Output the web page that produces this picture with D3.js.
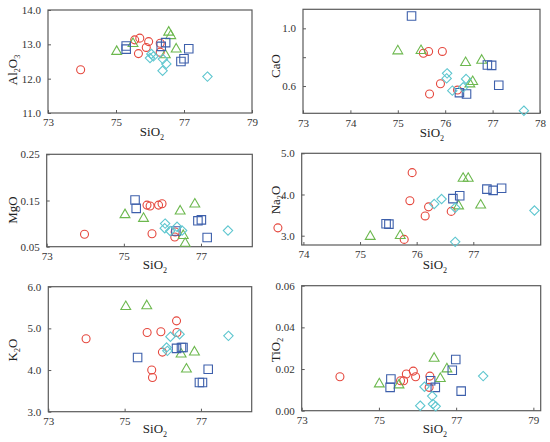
<!DOCTYPE html>
<html><head><meta charset="utf-8">
<script src="https://cdn.jsdelivr.net/npm/d3@7/dist/d3.min.js"></script>
<style>body{margin:0;background:#fff}svg{display:block}</style>
</head><body><svg id="c" width="550" height="442"></svg>
<script>
// ---------- DATA (SiO2, oxide) ----------
const al2o3Circles   = [[73.96,12.26],[75.55,13.13],[75.70,13.18],[75.66,12.73],[75.89,12.91],[75.96,13.08],[76.30,13.03],[76.30,12.77]];
const al2o3Triangles = [[75.02,12.79],[75.50,13.02],[76.45,12.69],[76.55,13.35],[76.61,13.25],[76.77,12.86]];
const al2o3Squares   = [[75.30,12.95],[75.30,12.86],[76.33,12.94],[76.46,13.05],[76.91,12.50],[77.00,12.58],[77.14,12.87]];
const al2o3Diamonds  = [[76.04,12.72],[76.00,12.60],[76.10,12.65],[76.38,12.57],[76.48,12.43],[76.37,12.23],[77.69,12.06]];

const caoCircles   = [[75.54,0.827],[75.65,0.840],[75.94,0.840],[75.90,0.616],[75.67,0.545],[76.26,0.572]];
const caoTriangles = [[75.00,0.843],[75.49,0.845],[76.43,0.762],[76.77,0.778],[76.58,0.630],[76.52,0.614]];
const caoSquares   = [[75.29,1.086],[76.30,0.554],[76.45,0.545],[76.89,0.746],[76.98,0.743],[77.13,0.605]];
const caoDiamonds  = [[76.04,0.688],[76.03,0.653],[76.15,0.568],[76.44,0.649],[76.38,0.591],[77.66,0.429]];

const mgoCircles   = [[73.98,0.077],[75.60,0.140],[75.68,0.138],[75.90,0.140],[75.99,0.143],[75.73,0.078],[76.33,0.082],[76.32,0.071]];
const mgoTriangles = [[75.03,0.119],[75.51,0.111],[76.46,0.127],[76.84,0.142],[76.54,0.074],[76.59,0.057]];
const mgoSquares   = [[75.29,0.151],[75.32,0.133],[76.35,0.084],[76.92,0.106],[77.01,0.108],[77.16,0.070]];
const mgoDiamonds  = [[76.07,0.100],[76.06,0.090],[76.20,0.084],[76.38,0.093],[76.51,0.085],[77.70,0.085]];

const na2oCircles   = [[73.55,3.19],[75.92,4.53],[75.88,3.85],[76.21,3.70],[76.15,3.48],[76.61,3.59],[75.78,2.91]];
const na2oTriangles = [[75.18,2.98],[75.71,3.00],[76.82,4.39],[76.91,4.39],[77.13,3.74],[76.74,3.72]];
const na2oSquares   = [[75.46,3.29],[75.51,3.28],[76.64,3.90],[76.76,3.97],[77.24,4.13],[77.35,4.10],[77.50,4.15]];
const na2oDiamonds  = [[76.31,3.77],[76.44,3.89],[76.68,3.68],[76.68,2.85],[78.08,3.61]];

const k2oCircles   = [[73.99,4.75],[75.59,4.90],[75.95,4.92],[76.36,5.18],[76.37,4.90],[75.99,4.43],[75.71,4.00],[75.73,3.82]];
const k2oTriangles = [[75.03,5.52],[75.58,5.54],[76.48,4.38],[76.83,4.43],[76.62,4.02]];
const k2oSquares   = [[75.34,4.30],[76.36,4.52],[76.49,4.54],[76.53,4.54],[76.96,3.70],[77.04,3.70],[77.19,4.02]];
const k2oDiamonds  = [[76.10,4.54],[76.12,4.46],[76.20,4.80],[76.44,4.86],[77.72,4.82]];

const tio2Circles   = [[73.99,0.0163],[75.56,0.0144],[75.64,0.0144],[75.71,0.0176],[75.89,0.0190],[75.95,0.0163],[76.32,0.0166],[76.30,0.0112]];
const tio2Triangles = [[75.01,0.0128],[75.52,0.0123],[76.43,0.0251],[76.76,0.0200],[76.59,0.0154]];
const tio2Squares   = [[75.31,0.0152],[75.29,0.0112],[76.34,0.0144],[76.46,0.0112],[76.90,0.0194],[76.99,0.0246],[77.13,0.0094]];
const tio2Diamonds  = [[76.18,0.0115],[76.38,0.0070],[76.07,0.0024],[76.40,0.0032],[76.47,0.0021],[77.70,0.0166]];

// tick labels
const xTicksA = [73,75,77,79];
const xTicksCaO = [73,74,75,76,77,78];
const xTicksMgO = [73,75,77];
const xTicksNa2O = [74,75,76,77];
const yTicksAl2O3 = [11,12,13,14];
const yTicksCaO = [0.6,0.8,1.0];
const yLabelsCaO = ["0.6","","1.0"];
const yTicksMgO = [0.05,0.15,0.25];
const yTicksNa2O = [3,4,5];
const yTicksK2O = [3,4,5,6];
const yTicksTiO2 = [0,0.02,0.04,0.06];

// ---------- LAYOUT ----------
const COL = {circle:"#e5473d", triangle:"#6cb84e", square:"#3d5fab", diamond:"#5ec6cf"};
const panels = [
 {x0:48,x1:252,y0:10,y1:113,xd:[73,79],yd:[11,14],xt:xTicksA,yt:yTicksAl2O3,yf:d=>d.toFixed(1),
  yl:[["Al"],["2",1],["O"],["3",1]],ylx:12,yly:70,xlx:152,xly:136,
  s:{circle:al2o3Circles,triangle:al2o3Triangles,square:al2o3Squares,diamond:al2o3Diamonds}},
 {x0:303,x1:540,y0:9.3,y1:113.3,xd:[73,78],yd:[0.411,1.132],xt:xTicksCaO,yt:yTicksCaO,yf:(d,i)=>yLabelsCaO[i],
  yl:[["CaO"]],ylx:275,yly:66,xlx:432,xly:137,
  s:{circle:caoCircles,triangle:caoTriangles,square:caoSquares,diamond:caoDiamonds}},
 {x0:46.7,x1:252.3,y0:154.3,y1:246.7,xd:[73,78.33],yd:[0.05,0.25],xt:xTicksMgO,yt:yTicksMgO,yf:d=>d.toFixed(2),
  yl:[["MgO"]],ylx:12,yly:210,xlx:155,xly:269,
  s:{circle:mgoCircles,triangle:mgoTriangles,square:mgoSquares,diamond:mgoDiamonds}},
 {x0:301.7,x1:540.7,y0:153.3,y1:245,xd:[73.97,78.19],yd:[2.774,5],xt:xTicksNa2O,yt:yTicksNa2O,yf:d=>d.toFixed(1),
  yl:[["Na"],["2",1],["O"]],ylx:275,yly:200,xlx:435,xly:269,
  s:{circle:na2oCircles,triangle:na2oTriangles,square:na2oSquares,diamond:na2oDiamonds}},
 {x0:48.3,x1:251.7,y0:286.7,y1:411.7,xd:[73,78.33],yd:[3,6],xt:xTicksMgO,yt:yTicksK2O,yf:d=>d.toFixed(1),
  yl:[["K"],["2",1],["O"]],ylx:12,yly:350,xlx:155,xly:433,
  s:{circle:k2oCircles,triangle:k2oTriangles,square:k2oSquares,diamond:k2oDiamonds}},
 {x0:301.7,x1:540.7,y0:285.7,y1:410.7,xd:[73,79.19],yd:[0,0.06],xt:xTicksA,yt:yTicksTiO2,yf:d=>d.toFixed(2),
  yl:[["TiO"],["2",1]],ylx:275,yly:350,xlx:435,xly:433,
  s:{circle:tio2Circles,triangle:tio2Triangles,square:tio2Squares,diamond:tio2Diamonds}}
];

const svg = d3.select("#c");
const FONT = "'Liberation Serif','Times New Roman',serif";
const diamondType = { draw(ctx, size){ const r=Math.sqrt(size/2); ctx.moveTo(0,-r); ctx.lineTo(r,0); ctx.lineTo(0,r); ctx.lineTo(-r,0); ctx.closePath(); } };
const sym = {
  circle: d3.symbol().type(d3.symbolCircle).size(50),
  triangle: d3.symbol().type(d3.symbolTriangle).size(42),
  square: d3.symbol().type(d3.symbolSquare).size(72),
  diamond: d3.symbol().type(diamondType).size(44)
};

function addRich(sel, parts, base){
  let prevSub=false;
  parts.forEach(p=>{
    const t = sel.append("tspan").text(p[0]);
    if(p[1]){ t.attr("font-size", base*0.62).attr("dy", base*0.28); }
    else if(prevSub){ t.attr("dy", -base*0.28); }
    prevSub=!!p[1];
  });
}

panels.forEach(P=>{
  const x = d3.scaleLinear().domain(P.xd).range([P.x0,P.x1]);
  const y = d3.scaleLinear().domain(P.yd).range([P.y1,P.y0]);
  const g = svg.append("g");
  g.append("rect").attr("x",P.x0).attr("y",P.y0).attr("width",P.x1-P.x0).attr("height",P.y1-P.y0)
    .attr("fill","none").attr("stroke","#5a5a5a").attr("stroke-width",1.2);
  const xa = g.append("g").attr("transform",`translate(0,${P.y1})`)
    .call(d3.axisBottom(x).tickValues(P.xt).tickSize(-3).tickPadding(5.5).tickFormat(d3.format("d")));
  const ya = g.append("g").attr("transform",`translate(${P.x0},0)`)
    .call(d3.axisLeft(y).tickValues(P.yt).tickSize(-3).tickPadding(7).tickFormat(P.yf));
  [xa,ya].forEach(a=>{
    a.select(".domain").remove();
    a.selectAll("line").attr("stroke","#5a5a5a");
    a.selectAll("text").attr("font-family",FONT).attr("font-size",11).attr("fill","#333");
  });
  const xt = g.append("text").attr("x",P.xlx).attr("y",P.xly).attr("text-anchor","middle")
    .attr("font-family",FONT).attr("font-size",13).attr("fill","#222");
  addRich(xt,[["SiO"],["2",1]],13);
  const yt = g.append("text").attr("transform",`translate(${P.ylx},${P.yly}) rotate(-90)`)
    .attr("text-anchor","middle").attr("dy","0.35em")
    .attr("font-family",FONT).attr("font-size",13).attr("fill","#222");
  addRich(yt,P.yl,13);
  ["circle","triangle","square","diamond"].forEach(k=>{
    g.append("g").selectAll("path").data(P.s[k]).join("path")
      .attr("d",sym[k])
      .attr("transform",d=>`translate(${x(d[0])},${y(d[1])})`)
      .attr("fill","none").attr("stroke",COL[k]).attr("stroke-width",1.1);
  });
});
</script></body></html>
